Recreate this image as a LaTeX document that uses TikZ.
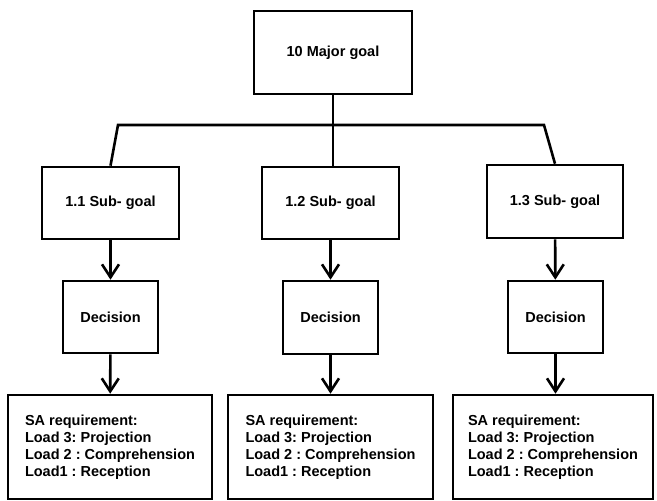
\documentclass[tikz,border=0pt]{standalone}
\usepackage{fontspec}
\setmainfont{Liberation Sans}
\usetikzlibrary{arrows.meta}
\frenchspacing
\tikzset{
  goalbox/.style={draw, line width=2.6pt, font=\bfseries\fontsize{14.5}{17}\selectfont, inner sep=0pt},
  reqbox/.style={goalbox, align=left, minimum height=104pt},
  link/.style={line width=2.6pt},
  arr/.style={link, -{Straight Barb[length=13pt, width=17pt]}}
}
\begin{document}
\begin{tikzpicture}[x=1pt, y=-1pt]
      \useasboundingbox (0,0) rectangle (657,501);

      \node[goalbox, minimum width=158pt, minimum height=83pt] (major) at (333, 52.5){10 Major goal};

      \node[goalbox, minimum width=137pt, minimum height=72pt] (sub1) at (110.5, 203){1.1 Sub- goal};
      \node[goalbox, minimum width=137pt, minimum height=72pt] (sub2) at (330.5, 203){1.2 Sub- goal};
      \node[goalbox, minimum width=136pt, minimum height=73pt] (sub3) at (555, 201.5){1.3 Sub- goal};

      \node[goalbox, minimum width=95pt, minimum height=72pt] (dec1) at (110.5, 317){Decision};
      \node[goalbox, minimum width=95pt, minimum height=73pt] (dec2) at (330.5, 317.5){Decision};
      \node[goalbox, minimum width=95pt, minimum height=72pt] (dec3) at (555.5, 317){Decision};

      \node[reqbox, minimum width=204pt] (req1) at (110, 447){SA requirement:\\Load 3: Projection\\Load 2 : Comprehension\\Load1 : Reception};
      \node[reqbox, minimum width=205pt] (req2) at (330.5, 447){SA requirement:\\Load 3: Projection\\Load 2 : Comprehension\\Load1 : Reception};
      \node[reqbox, minimum width=200pt] (req3) at (553, 447){SA requirement:\\Load 3: Projection\\Load 2 : Comprehension\\Load1 : Reception};

      \coordinate (barL) at (118, 125);
      \coordinate (barR) at (544, 125);

      \draw[link] (major.south) -- (major.south |- sub2.north);
      \draw[link] (sub1.north) -- (barL) -- (barR) -- (sub3.north);

      \draw[arr] (sub1) -- (dec1);
      \draw[arr] (sub2) -- (dec2);
      \draw[arr] (sub3) -- (dec3);
      \draw[arr] (dec1) -- (req1);
      \draw[arr] (dec2) -- (req2);
      \draw[arr] (dec3) -- (req3.north -| dec3);
    \end{tikzpicture}
\end{document}
